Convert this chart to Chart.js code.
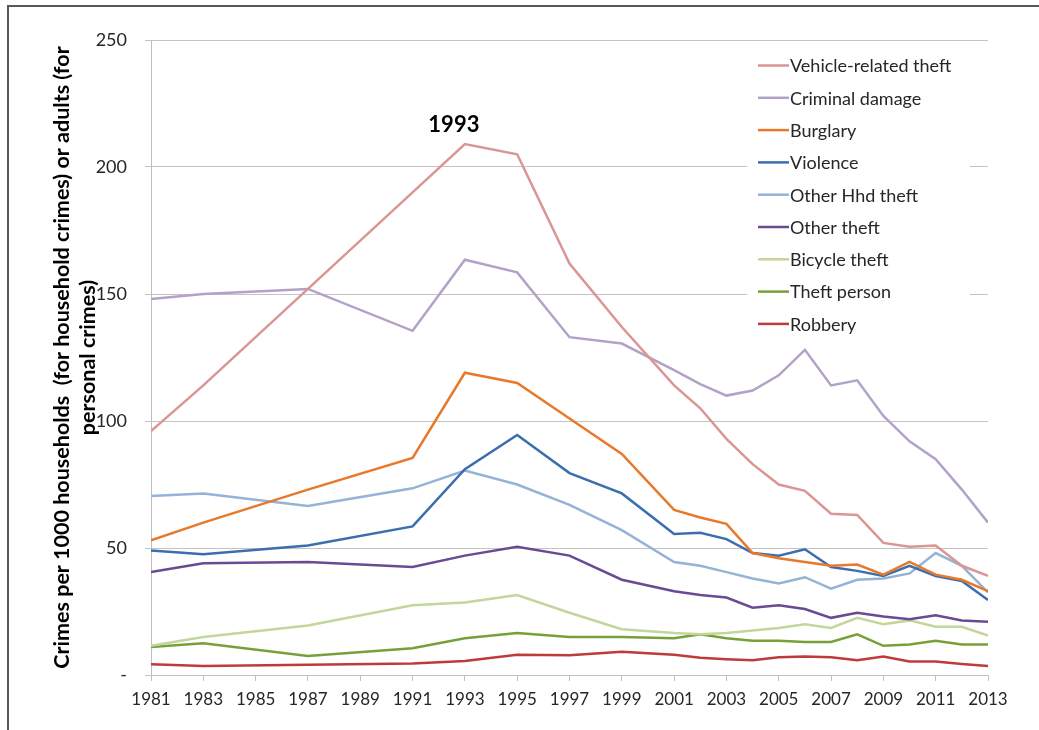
<!DOCTYPE html>
<html>
<head>
<meta charset="utf-8">
<title>Crime trends 1981-2013</title>
<script src="https://cdn.jsdelivr.net/npm/chart.js@4.4.1/dist/chart.umd.min.js"></script>
<style>
  html, body { margin: 0; padding: 0; background: #fff; }
  #wrap { width: 1039px; height: 730px; }
</style>
</head>
<body>
<div id="wrap"><canvas id="crimeChart" width="1039" height="730"></canvas></div>
<script>
const years = [1981, 1983, 1987, 1991, 1993, 1995, 1997, 1999, 2001, 2002, 2003,
    2004, 2005, 2006, 2007, 2008, 2009, 2010, 2011, 2012, 2013];

const vehicleTheft = [96, 114, 152, 190, 209, 205, 162, 137, 114, 105, 93, 83, 75, 72.5, 63.5, 63, 52, 50.5, 51, 43, 39];
const criminalDamage = [148, 150, 152, 135.5, 163.5, 158.5, 133, 130.5, 120, 114.5, 110, 112, 118, 128, 114, 116, 102, 92, 85, 73, 60];
const burglary = [53, 60, 73, 85.5, 119, 115, 101, 87, 65, 62, 59.5, 48, 46, 44.5, 43, 43.5, 39.5, 44.5, 39.5, 37.5, 33];
const violence = [49, 47.5, 51, 58.5, 81, 94.5, 79.5, 71.5, 55.5, 56, 53.5, 48, 47, 49.5, 42.5, 41, 39, 43, 39, 37, 29.5];
const otherHhdTheft = [70.5, 71.5, 66.5, 73.5, 80.5, 75, 67, 57, 44.5, 43, 40.5, 38, 36, 38.5, 34, 37.5, 38, 40, 48, 43, 32.5];
const otherTheft = [40.5, 44, 44.5, 42.5, 47, 50.5, 47, 37.5, 33, 31.5, 30.5, 26.5, 27.5, 26, 22.5, 24.5, 23, 22, 23.5, 21.5, 21];
const bicycleTheft = [11.5, 15, 19.5, 27.5, 28.5, 31.5, 24.5, 18, 16.5, 16, 16.5, 17.5, 18.5, 20, 18.5, 22.5, 20, 21.5, 19, 19, 15.5];
const theftPerson = [11, 12.5, 7.5, 10.5, 14.5, 16.5, 15, 15, 14.5, 16, 14.5, 13.5, 13.5, 13, 13, 16, 11.5, 12, 13.5, 12, 12];
const robbery = [4.2, 3.5, 4, 4.5, 5.5, 8, 7.8, 9.2, 8, 6.8, 6.2, 5.8, 7, 7.3, 7, 5.8, 7.3, 5.3, 5.3, 4.3, 3.5];

const seriesNames = ["Vehicle-related theft", "Criminal damage", "Burglary", "Violence",
    "Other Hhd theft", "Other theft", "Bicycle theft", "Theft person", "Robbery"];
const seriesValues = [vehicleTheft, criminalDamage, burglary, violence,
    otherHhdTheft, otherTheft, bicycleTheft, theftPerson, robbery];
const seriesColors = ["#D99694", "#B3A2C7", "#E8792B", "#3B6EAF",
    "#95B3D7", "#6A4A93", "#C3D69B", "#77A03A", "#BF3B3B"];

const yTitle = ["Crimes per 1000 households  (for household crimes) or adults (for", "personal crimes)"];

const FONT = "Lato, 'Open Sans', sans-serif";
const TEXT_COLOR = "#262626";

// white background + the thin frame on the left and top
const framePlugin = {
    id: "frame",
    beforeDraw(chart) {
        const ctx = chart.ctx;
        ctx.save();
        ctx.fillStyle = "#fff";
        ctx.fillRect(0, 0, chart.width, chart.height);
        ctx.strokeStyle = "#595959";
        ctx.lineWidth = 2;
        ctx.beginPath();
        ctx.moveTo(8, chart.height);
        ctx.lineTo(8, 6);
        ctx.lineTo(chart.width, 6);
        ctx.stroke();
        ctx.restore();
    }
};

// legend box inside the plot, covers the gridlines like Excel does
const boxLegendPlugin = {
    id: "boxLegend",
    beforeDatasetsDraw(chart) {
        const ctx = chart.ctx;
        ctx.save();
        ctx.fillStyle = "#fff";
        ctx.fillRect(747, 46, 223, 294);
        ctx.font = "18px " + FONT;
        ctx.textBaseline = "middle";
        ctx.textAlign = "left";
        chart.data.datasets.forEach((ds, i) => {
            const y = 65.5 + i * 32.3;
            ctx.strokeStyle = ds.borderColor;
            ctx.lineWidth = 2.5;
            ctx.beginPath();
            ctx.moveTo(758, y);
            ctx.lineTo(789, y);
            ctx.stroke();
            ctx.fillStyle = TEXT_COLOR;
            ctx.fillText(ds.label, 790, y + 1);
        });
        ctx.restore();
    }
};

// year label above the peak of vehicle-related theft
const peakLabelPlugin = {
    id: "peakLabel",
    afterDatasetsDraw(chart) {
        const peak = Math.max(...vehicleTheft);
        const idx = vehicleTheft.indexOf(peak);
        const xs = chart.scales.x, ys = chart.scales.y;
        const ctx = chart.ctx;
        ctx.save();
        ctx.font = "bold 22px " + FONT;
        ctx.fillStyle = "#000";
        ctx.textAlign = "center";
        ctx.textBaseline = "alphabetic";
        ctx.fillText(String(years[idx]), xs.getPixelForValue(years[idx]) - 11, ys.getPixelForValue(peak) - 12);
        ctx.restore();
    }
};

const datasets = seriesNames.map((name, i) => ({
    label: name,
    data: years.map((yr, j) => ({ x: yr, y: seriesValues[i][j] })),
    borderColor: seriesColors[i],
    backgroundColor: seriesColors[i],
    borderWidth: 2.5,
    pointRadius: 0,
    tension: 0,
    fill: false
}));

const ctx = document.getElementById("crimeChart").getContext("2d");

new Chart(ctx, {
    type: "line",
    data: { datasets: datasets },
    options: {
        responsive: false,
        animation: false,
        devicePixelRatio: 1,
        layout: { padding: { left: 0, top: 40, right: 51, bottom: 0 } },
        plugins: {
            legend: { display: false },
            tooltip: { enabled: false }
        },
        scales: {
            x: {
                type: "linear",
                min: 1981,
                max: 2013,
                afterFit: s => { s.height = 55; },
                ticks: {
                    stepSize: 2,
                    autoSkip: false,
                    maxRotation: 0,
                    padding: 8,
                    color: TEXT_COLOR,
                    font: { family: FONT, size: 17 },
                    callback: v => String(v)
                },
                grid: { drawOnChartArea: false, drawTicks: true, tickLength: 6, color: "#bfbfbf" },
                border: { color: "#bfbfbf", width: 1 }
            },
            y: {
                min: 0,
                max: 250,
                afterFit: s => { s.width = 151; },
                ticks: {
                    stepSize: 50,
                    padding: 18,
                    color: TEXT_COLOR,
                    font: { family: FONT, size: 18 },
                    callback: v => v === 0 ? "-" : String(v)
                },
                grid: { color: "#c4c4c4", tickLength: 6 },
                border: { color: "#bfbfbf", width: 1 },
                title: {
                    display: true,
                    text: yTitle,
                    color: "#000",
                    font: { family: FONT, size: 21.5, weight: "bold", lineHeight: 1.2 },
                    padding: { top: 49, bottom: 0 }
                }
            }
        }
    },
    plugins: [framePlugin, boxLegendPlugin, peakLabelPlugin]
});
</script>
</body>
</html>
